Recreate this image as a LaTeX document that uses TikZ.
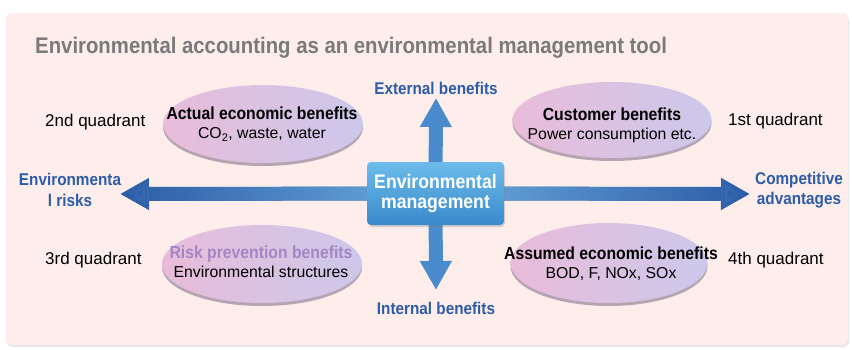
\documentclass[tikz,border=0pt]{standalone}
\usepackage{fontspec}
\setmainfont{Liberation Sans}
\newfontfamily\headfont[FakeStretch=0.9]{Liberation Sans}
\newcommand\bubheadfont{\headfont\bfseries\fontsize{17.5}{19}\selectfont}
\usetikzlibrary{arrows.meta}
\usetikzlibrary{shapes.geometric}
\usetikzlibrary{shadows}
\usetikzlibrary{fadings}
\definecolor{panelpink}{HTML}{FDEEEC}
\definecolor{titlegray}{HTML}{7A7A7A}
\definecolor{axisblue}{HTML}{2D5CA8}
\definecolor{axisdark}{HTML}{2A5AA6}
\definecolor{axislight}{HTML}{6EAEDF}
\definecolor{vertblue}{HTML}{4A8BCD}
\definecolor{boxtop}{HTML}{6CBBEA}
\definecolor{boxbot}{HTML}{3A8ACB}
\definecolor{bubpink}{HTML}{E8BCD9}
\definecolor{bublav}{HTML}{CCC8EB}
\definecolor{bubshade}{HTML}{7C6884}
\definecolor{riskpurple}{HTML}{A585C4}
\pgfdeclarelayer{back}
\pgfsetlayers{back,main}
\tikzset{
  bubble/.style={ellipse, minimum width=200pt, minimum height=78pt, inner sep=0pt,
    left color=bubpink, right color=bublav,
    drop shadow={shadow xshift=0pt, shadow yshift=-3pt, fill=bubshade, opacity=.55}},
  bubtext/.style={align=center, inner sep=0pt, font=\fontsize{15.8}{19}\selectfont},
  quadlbl/.style={anchor=west, inner sep=0pt, font=\fontsize{17}{20}\selectfont},
  axislbl/.style={align=center, inner sep=0pt, text=axisblue, font=\headfont\bfseries\fontsize{17}{20.5}\selectfont},
  mgmtbox/.style={rectangle, rounded corners=4pt, minimum width=137pt, minimum height=63pt,
    top color=boxtop, bottom color=boxbot, text=white, align=center,
    font=\headfont\bfseries\fontsize{19.6}{20.5}\selectfont,
    drop shadow={shadow xshift=1pt, shadow yshift=-2pt, opacity=.3}},
  bigarrow/.style={line width=14pt, -{Triangle[width=30pt,length=29pt]}}
}
\begin{document}
\begin{tikzpicture}[x=1pt,y=-1pt]
\useasboundingbox (0,0) rectangle (852,349);
\begin{pgfonlayer}{back}
\path[fill=panelpink, rounded corners=6pt, drop shadow={shadow xshift=1pt, shadow yshift=-2pt, opacity=.2}] (6,13) rectangle (848,345);
\end{pgfonlayer}
\node[anchor=west, inner sep=0pt, text=titlegray, font=\headfont\bfseries\fontsize{22.6}{26}\selectfont] (title) at (35,48) {Environmental accounting as an environmental management tool};
\node[mgmtbox] (mgmt) at (435.5,193.5) {Environmental\\management};
\coordinate (extend) at (436,98);
\coordinate (intend) at (436,290);
\coordinate (riskend) at (120,194);
\coordinate (advend) at (750,194);
\begin{pgfonlayer}{back}
\draw[bigarrow, vertblue] (mgmt.center) -- (extend);
\draw[bigarrow, vertblue] (mgmt.center) -- (intend);
\draw[bigarrow, axisdark] (mgmt.center) -- (riskend);
\draw[bigarrow, axisdark] (mgmt.center) -- (advend);
\draw[bigarrow, axislight, path fading=west] (mgmt.center) -- (riskend);
\draw[bigarrow, axislight, path fading=east] (mgmt.center) -- (advend);
\end{pgfonlayer}
\node[axislbl] (extlbl) at (436,88) {External benefits};
\node[axislbl] (intlbl) at (436,308) {Internal benefits};
\node[axislbl] (risklbl) at (70,190) {Environmenta\\l risks};
\node[axislbl] (advlbl) at (799,190) {Competitive\\advantages};
\node[bubble] (actual) at (263,124) {};
\node[bubble, minimum width=199pt, minimum height=76pt] (cust) at (612,120) {};
\node[bubble] (risk) at (262,264) {};
\node[bubble, minimum width=197pt, minimum height=80pt] (assumed) at (609,263) {};
\node[bubtext] (actualtxt) at (262,124.5) {{\bubheadfont Actual economic benefits}\\CO\textsubscript{2}, waste, water};
\node[bubtext] (custtxt) at (612,125.5) {{\bubheadfont Customer benefits}\\Power consumption etc.};
\node[bubtext] (risktxt) at (261,262) {{\bubheadfont\color{riskpurple}Risk prevention benefits}\\Environmental structures};
\node[bubtext] (assumedtxt) at (611,264) {{\bubheadfont Assumed economic benefits}\\BOD, F, NOx, SOx};
\node[quadlbl] (q2) at (45,122) {2nd quadrant};
\node[quadlbl] (q1) at (728,121) {1st quadrant};
\node[quadlbl] (q3) at (45,260) {3rd quadrant};
\node[quadlbl] (q4) at (728,260) {4th quadrant};
\end{tikzpicture}
\end{document}
